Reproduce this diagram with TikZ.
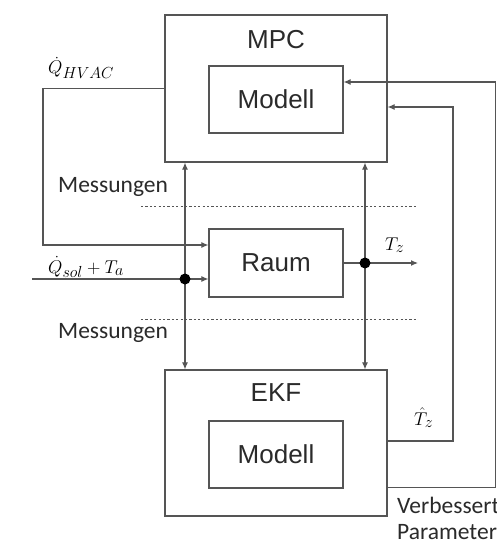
\RequirePackage{fix-cm}
\documentclass[tikz,border=0pt]{standalone}
\usepackage{fontspec}
\setmainfont{Liberation Sans}
\newfontfamily\calfont{Carlito}
\DeclareMathSizes{18.5}{18.5}{16}{12}
\usetikzlibrary{arrows.meta}
\definecolor{ln}{HTML}{555555}
\definecolor{tx}{HTML}{2a2a2a}
\tikzset{
  box/.style={draw=ln, line width=1.2pt, rectangle, inner sep=0pt, text=tx, font=\fontsize{26}{29}\selectfont},
  wire/.style={draw=ln, line width=1.1pt},
  arr/.style={wire, -{Latex[length=7pt,width=6pt]}},
  darr/.style={wire, {Latex[length=7pt,width=6pt]}-{Latex[length=7pt,width=6pt]}},
  dotted line/.style={draw=ln, line width=0.8pt, dash pattern=on 2.2pt off 2.2pt},
  junc/.style={fill=black},
  meas/.style={text=tx, font=\calfont\fontsize{23.5}{26}\selectfont, inner sep=0pt},
  mlab/.style={text=black, font=\fontsize{18.5}{21}\selectfont, inner sep=0pt},
  title/.style={text=tx, font=\fontsize{26}{29}\selectfont, inner sep=0pt}
}
\begin{document}
\begin{tikzpicture}[x=1pt,y=-1pt]
\useasboundingbox (0,0) rectangle (496,540);
\clip (0,0) rectangle (496,540);
\fill[white] (0,0) rectangle (496,540);

% boxes
\node[box, minimum width=222pt, minimum height=147pt] (mpc) at (276,88.5) {};
\node[title] (mpct) at (276,40) {MPC};
\node[box, minimum width=134pt, minimum height=67pt] (mpcm) at (276,99.5) {Modell};
\node[box, minimum width=134pt, minimum height=68pt] (raum) at (276,263) {Raum};
\node[box, minimum width=222pt, minimum height=146pt] (ekf) at (276,443) {};
\node[title] (ekft) at (276,393) {EKF};
\node[box, minimum width=134pt, minimum height=67pt] (ekfm) at (276,454.5) {Modell};

% coordinates
\coordinate (hvc) at (43,245);
\coordinate (qs) at (32,279);
\coordinate (d1) at (185,279);
\coordinate (d2) at (365,263);
\coordinate (tz) at (418,263);
\coordinate (th1) at (453,441);
\coordinate (th2) at (453,107);
\coordinate (vb) at (495.5,487.5);
\coordinate (vt) at (495.5,82);
\coordinate (m1a) at (141,206);
\coordinate (m1b) at (418,206);
\coordinate (m2a) at (141,319);
\coordinate (m2b) at (418,319);

% dashed separators
\draw[dotted line] (m1a) -- (m1b);
\draw[dotted line] (m2a) -- (m2b);

% connectors
\draw[arr] (mpc.west) -| (hvc) -- (raum.west |- hvc);
\draw[arr] (qs) -- (raum.west |- qs);
\draw[darr] (d1 |- mpc.south) -- (d1 |- ekf.north);
\draw[darr] (d2 |- mpc.south) -- (d2 |- ekf.north);
\draw[wire] (raum.east) -- (d2);
\draw[arr] (d2) -- (tz);
\draw[arr] (ekf.east |- th1) -- (th1) -- (th2) -- (mpc.east |- th2);
\draw[arr] (ekf.east |- vb) -- (vb) -- (vt) -- (mpcm.east |- vt);
\fill[junc] (d1) circle (5.5pt);
\fill[junc] (d2) circle (5.5pt);

% labels
\node[mlab, anchor=base west] (lhv) at (48,74) {$\dot Q_{HVAC}$};
\node[mlab, anchor=base west] (lqs) at (48,273) {$\dot Q_{sol} + T_a$};
\node[mlab, anchor=base west] (ltz) at (385,250) {$T_z$};
\node[mlab, anchor=base west] (lth) at (414,425) {$\hat T_z$};
\node[meas, anchor=base west] (ms1) at (58,193) {Messungen};
\node[meas, anchor=base west] (ms2) at (58,338) {Messungen};
\node[meas, anchor=base west] (vb1) at (397,513) {Verbesserte};
\node[meas, anchor=base west] (vb2) at (397,539) {Parameter};
\end{tikzpicture}
\end{document}
